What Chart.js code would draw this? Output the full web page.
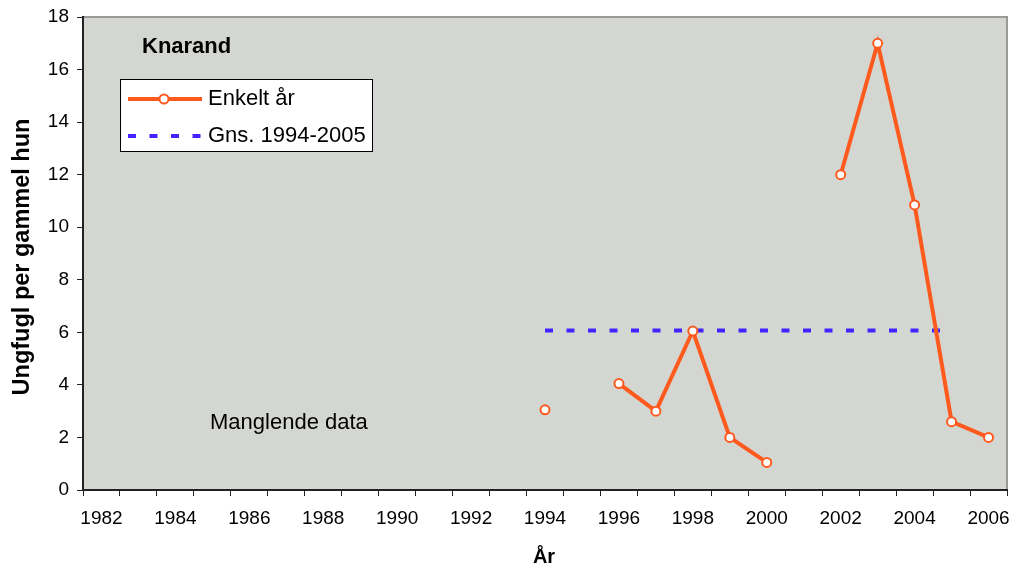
<!DOCTYPE html>
<html>
<head>
<meta charset="utf-8">
<script src="https://cdn.jsdelivr.net/npm/chart.js@4/dist/chart.umd.min.js"></script>
<style>
  body { margin: 0; background: #fff; }
  canvas { display: block; }
</style>
</head>
<body>
<canvas id="chart" width="1014" height="568"></canvas>
<script>
// data
const years = ["1982","1983","1984","1985","1986","1987","1988","1989","1990","1991","1992","1993",
  "1994","1995","1996","1997","1998","1999","2000","2001","2002","2003","2004","2005","2006"];
const enkeltAar = [null,null,null,null,null,null,null,null,null,null,null,null,
  3.05, null, 4.05, 3.0, 6.05, 2.0, 1.05, null, 12.0, 17.0, 10.85, 2.6, 2.0];
const gns = [null,null,null,null,null,null,null,null,null,null,null,null,
  6.07,6.07,6.07,6.07,6.07,6.07,6.07,6.07,6.07,6.07,6.07,6.07, null];
const yTicks = [0, 2, 4, 6, 8, 10, 12, 14, 16, 18];

const ORANGE = "#ff5a1e";
const BLUE = "#4422ff";
const FONT = "'Liberation Sans', Arial, sans-serif";

// plot background, frame, titles and the legend box
const decor = {
  id: "decor",
  beforeDraw(chart) {
    const { ctx, chartArea: a } = chart;
    ctx.save();
    ctx.fillStyle = "#d4d6d1";
    ctx.fillRect(a.left, a.top, a.right - a.left, a.bottom - a.top);
    ctx.strokeStyle = "#9a9a9a";
    ctx.lineWidth = 2;
    ctx.beginPath();
    ctx.moveTo(a.left, a.top);
    ctx.lineTo(a.right, a.top);
    ctx.lineTo(a.right, a.bottom);
    ctx.stroke();
    ctx.restore();
  },
  afterDraw(chart) {
    const { ctx } = chart;
    ctx.save();
    ctx.fillStyle = "#000";

    // axis titles
    ctx.font = "bold 20px " + FONT;
    ctx.textAlign = "center";
    ctx.textBaseline = "middle";
    ctx.fillText("År", 544, 557);
    ctx.save();
    ctx.translate(23, 257);
    ctx.rotate(-Math.PI / 2);
    ctx.font = "bold 23.5px " + FONT;
    ctx.fillText("Ungfugl per gammel hun", 0, 0);
    ctx.restore();

    // chart title
    ctx.textAlign = "left";
    ctx.font = "bold 22px " + FONT;
    ctx.fillText("Knarand", 142, 47);

    // note
    ctx.font = "22px " + FONT;
    ctx.fillText("Manglende data", 210, 423);

    // legend
    ctx.fillStyle = "#fff";
    ctx.fillRect(120.5, 79.5, 252, 72);
    ctx.strokeStyle = "#000";
    ctx.lineWidth = 1;
    ctx.strokeRect(120.5, 79.5, 252, 72);

    ctx.strokeStyle = ORANGE;
    ctx.lineWidth = 4;
    ctx.beginPath();
    ctx.moveTo(128, 99);
    ctx.lineTo(202, 99);
    ctx.stroke();
    ctx.beginPath();
    ctx.arc(164, 99, 4.5, 0, Math.PI * 2);
    ctx.fillStyle = "#fff";
    ctx.fill();
    ctx.lineWidth = 2;
    ctx.stroke();

    ctx.strokeStyle = BLUE;
    ctx.lineWidth = 4;
    ctx.setLineDash([8, 13.5]);
    ctx.beginPath();
    ctx.moveTo(128, 136);
    ctx.lineTo(202, 136);
    ctx.stroke();
    ctx.setLineDash([]);

    ctx.fillStyle = "#000";
    ctx.font = "22px " + FONT;
    ctx.fillText("Enkelt år", 208, 99);
    ctx.fillText("Gns. 1994-2005", 208, 136);
    ctx.restore();
  }
};

new Chart(document.getElementById("chart"), {
  type: "line",
  data: {
    labels: years,
    datasets: [
      {
        label: "Enkelt år",
        data: enkeltAar,
        borderColor: ORANGE,
        borderWidth: 4,
        pointRadius: 4.5,
        pointBackgroundColor: "#fff",
        pointBorderColor: ORANGE,
        pointBorderWidth: 2,
        spanGaps: false,
        tension: 0
      },
      {
        label: "Gns. 1994-2005",
        data: gns,
        borderColor: BLUE,
        borderWidth: 4,
        borderDash: [8, 13.5],
        borderCapStyle: "butt",
        pointRadius: 0,
        spanGaps: false
      }
    ]
  },
  options: {
    responsive: false,
    animation: false,
    layout: { padding: { top: 17, right: 7, left: 0, bottom: 0 } },
    plugins: {
      legend: { display: false },
      tooltip: { enabled: false }
    },
    scales: {
      x: {
        offset: true,
        afterFit: s => { s.height = 78; s.paddingLeft = 0; s.paddingRight = 0; },
        grid: { offset: true, drawOnChartArea: false, drawTicks: true, tickLength: 6, color: "#222" },
        border: { display: true, color: "#222", width: 2 },
        ticks: {
          autoSkip: false,
          maxRotation: 0,
          padding: 11,
          color: "#000",
          font: { family: FONT, size: 19 },
          callback: (v, i) => (parseInt(years[i]) % 2 === 0 ? years[i] : "")
        }
      },
      y: {
        min: 0,
        max: 18,
        afterFit: s => { s.width = 83; s.paddingTop = 0; s.paddingBottom = 0; },
        afterBuildTicks: s => { s.ticks = yTicks.map(v => ({ value: v })); },
        grid: { drawOnChartArea: false, drawTicks: true, tickLength: 6, color: "#222" },
        border: { display: true, color: "#222", width: 2 },
        ticks: {
          padding: 8,
          color: "#000",
          font: { family: FONT, size: 19 }
        }
      }
    }
  },
  plugins: [decor]
});
</script>
</body>
</html>
